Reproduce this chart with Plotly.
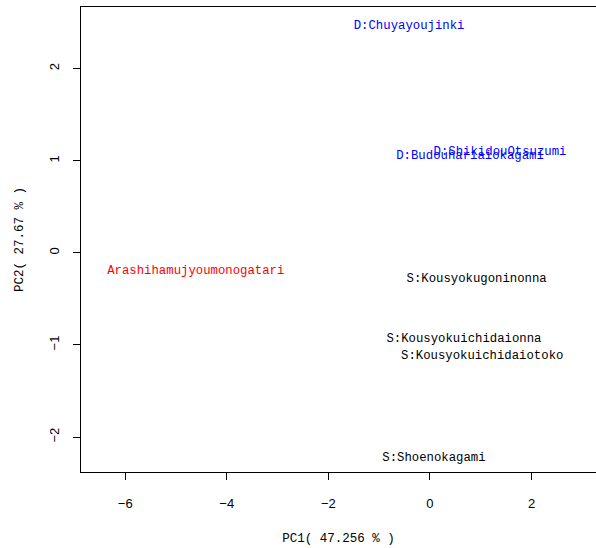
import plotly.graph_objects as go

labels = ["D:Chuyayoujinki", "D:ShikidouOtsuzumi", "D:Budouhariaiokagami",
          "Arashihamujyoumonogatari", "S:Kousyokugoninonna",
          "S:Kousyokuichidaionna", "S:Kousyokuichidaiotoko", "S:Shoenokagami"]
pc1 = [-0.41, 1.38, 0.79, -4.61, 0.92, 0.67, 1.03, 0.08]
pc2 = [2.46, 1.10, 1.05, -0.20, -0.28, -0.93, -1.12, -2.23]
colors = ["#0000FF", "#0000FF", "#0000FF", "#FF0000", "#000000",
          "#000000", "#000000", "#000000"]

x_ticks = [-6, -4, -2, 0, 2]
y_ticks = [-2, -1, 0, 1, 2]
x_title = "PC1( 47.256 % )"
y_title = "PC2( 27.67 % )"

mono = "Liberation Mono"

fig = go.Figure()
fig.add_trace(go.Scatter(
    x=pc1, y=pc2, mode="text", text=labels,
    textposition="middle center",
    textfont=dict(family=mono, size=12.3, color=colors),
    hoverinfo="skip", showlegend=False,
))

fig.update_layout(
    width=596, height=548,
    margin=dict(l=81, r=0, t=7, b=76),
    plot_bgcolor="white", paper_bgcolor="white",
    xaxis=dict(range=[-6.87, 3.27], tickvals=x_ticks, ticks="outside",
               ticklen=7, tickcolor="black", showgrid=False, zeroline=False,
               showline=True, linecolor="black", linewidth=1, mirror=True,
               tickfont=dict(family="Liberation Sans", size=13, color="black"),
               ticklabelstandoff=12,
               title=dict(text=x_title, font=dict(family=mono, size=12.5, color="black"),
                          standoff=23)),
    yaxis=dict(range=[-2.38, 2.67], tickvals=y_ticks, ticks="outside",
               ticklen=7, tickcolor="black", showgrid=False, zeroline=False,
               showline=True, linecolor="black", linewidth=1, mirror=False,
               tickangle=-90,
               tickfont=dict(family="Liberation Sans", size=13, color="black"),
               ticklabelstandoff=9,
               title=dict(text=y_title, font=dict(family=mono, size=12.5, color="black"),
                          standoff=20)),
)

fig.write_html("out.html", config={"displayModeBar": False},
               post_script="document.body.style.margin='0';document.body.style.overflow='hidden';")
